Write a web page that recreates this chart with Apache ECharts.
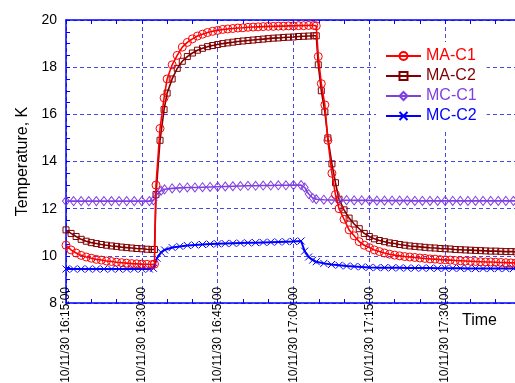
<!DOCTYPE html>
<html>
<head>
<meta charset="utf-8">
<script src="https://cdn.jsdelivr.net/npm/echarts@6/dist/echarts.min.js"></script>
<style>
html,body{margin:0;padding:0;background:#fff;}
#chart{width:515px;height:383px;}
</style>
</head>
<body>
<div id="chart"></div>
<script>
// minutes after 10/11/30 16:15:00
const timesMA = [0,1,2,3,4,5,6,7,8,9,10,11,12,13,14,15,16,17,17.5,17.8,18.6,19.4,
  20,21,22,23,24,25,26,27,28,29,30,31,32,33,34,35,36,37,38,39,40,41,42,43,44,45,46,47,48,49,
  49.5,49.9,50.5,51.2,51.8,52.6,53.3,
  54,55,56,57,58,59,60,61,62,63,64,65,66,67,68,69,70,71,72,73,74,75,76,77,78,79,80,81,82,83,84,85,86,87,88,89,90];
const maC1 = [10.45,10.25,10.12,10.02,9.95,9.9,9.85,9.82,9.78,9.76,9.73,9.71,9.69,9.67,9.66,9.65,9.64,9.63,
  9.65,13.0,15.4,16.7,
  17.5,18.1,18.5,18.85,19.05,19.2,19.32,19.4,19.47,19.52,19.56,19.6,19.62,19.64,19.66,19.67,19.69,19.7,19.71,19.72,19.73,19.73,19.74,19.74,19.75,19.75,19.76,19.76,19.77,19.77,
  19.75,18.45,17.3,16.4,14.9,13.5,12.6,
  12.0,11.55,11.1,10.85,10.6,10.45,10.35,10.25,10.18,10.12,10.07,10.03,10.0,9.97,9.95,9.93,9.91,9.89,9.87,9.86,9.84,9.83,9.82,9.8,9.79,9.78,9.77,9.76,9.75,9.74,9.74,9.73,9.72,9.71,9.7,9.7,9.69];
const maC2 = [11.1,10.95,10.82,10.7,10.62,10.56,10.52,10.48,10.45,10.42,10.4,10.37,10.35,10.33,10.31,10.3,10.28,10.27,
  10.27,12.6,14.9,16.2,
  16.9,17.5,17.95,18.25,18.45,18.6,18.72,18.8,18.87,18.92,18.96,19.0,19.03,19.06,19.09,19.11,19.13,19.15,19.17,19.19,19.21,19.23,19.24,19.26,19.27,19.28,19.3,19.31,19.32,19.33,
  19.33,18.1,17.0,16.1,15.0,13.9,13.1,
  12.4,11.95,11.6,11.35,11.15,10.95,10.82,10.72,10.65,10.6,10.55,10.52,10.48,10.45,10.42,10.4,10.38,10.36,10.34,10.33,10.31,10.3,10.29,10.27,10.26,10.25,10.24,10.23,10.22,10.21,10.2,10.2,10.19,10.18,10.18,10.17,10.17];

const timesMC = [0,1.5,3,4.5,6,7.5,9,10.5,12,13.5,15,16.5,17.3,18,18.8,19.5,
  21,22.5,24,25.5,27,28.5,30,31.5,33,34.5,36,37.5,39,40.5,42,43.5,45,46.5,
  47.2,48,48.8,49.5,
  51,52.5,54,55.5,57,58.5,60,61.5,63,64.5,66,67.5,69,70.5,72,73.5,75,76.5,78,79.5,81,82.5,84,85.5,87,88.5,90];
const mcC1 = [12.32,12.32,12.32,12.32,12.32,12.32,12.32,12.32,12.32,12.32,12.32,12.32,12.35,12.62,12.76,12.82,
  12.86,12.88,12.9,12.9,12.91,12.92,12.93,12.94,12.95,12.96,12.97,12.97,12.98,12.98,12.99,12.99,13.0,13.0,
  12.9,12.62,12.45,12.4,
  12.38,12.37,12.36,12.36,12.35,12.35,12.35,12.34,12.34,12.34,12.34,12.34,12.33,12.33,12.33,12.33,12.33,12.33,12.33,12.33,12.33,12.33,12.33,12.33,12.33,12.33,12.33];
const mcC2 = [9.44,9.44,9.44,9.44,9.44,9.44,9.44,9.44,9.44,9.44,9.44,9.44,9.47,9.9,10.15,10.25,
  10.35,10.4,10.44,10.46,10.48,10.5,10.51,10.52,10.53,10.54,10.55,10.56,10.57,10.58,10.59,10.6,10.61,10.63,
  10.2,9.95,9.82,9.75,
  9.68,9.63,9.6,9.57,9.55,9.53,9.51,9.5,9.5,9.49,9.49,9.48,9.48,9.48,9.48,9.47,9.47,9.47,9.47,9.46,9.46,9.46,9.46,9.46,9.46,9.46,9.46];

const seriesNames = ['MA-C1','MA-C2','MC-C1','MC-C2'];
const yTicks = [8,10,12,14,16,18,20];

const FONT = '"Liberation Sans", Arial, sans-serif';
const colors = ['#ff0000','#800000','#8040e0','#0000ff'];
const symbols = ['circle','rect','diamond','path://M0,0L10,10M10,0L0,10'];
const symSizes = [8,6,[7,9],7];
const lineWidths = [1.6,1.6,1.6,2];

function pairs(t, v){ return t.map((x,i)=>[x, v[i]]); }
const dataSets = [pairs(timesMA, maC1), pairs(timesMA, maC2), pairs(timesMC, mcC1), pairs(timesMC, mcC2)];

function timeLabel(v){
  if (v > 75 || Math.abs(v % 15) > 1e-6) return '';
  const total = 16*60 + 15 + v;
  const hh = Math.floor(total/60), mm = total % 60;
  return '10/11/30 ' + hh + ':' + String(mm).padStart(2,'0') + ':00';
}

const gridLine = {show:true, lineStyle:{color:'#4848e8', width:1, type:[4,3]}};
const axisBlue = {show:true, lineStyle:{color:'#0000ff', width:1.5}};

const chart = echarts.init(document.getElementById('chart'), null, {renderer:'canvas'});
chart.setOption({
  animation:false,
  backgroundColor:'#fff',
  textStyle:{fontFamily:FONT},
  grid:{left:66, top:20, width:455, height:283, containLabel:false, outerBoundsMode:'none'},
  xAxis:[{
    type:'value', min:0, max:90, interval:15, position:'bottom',
    axisLine:axisBlue,
    axisTick:{show:true, inside:true, length:4, lineStyle:{color:'#0000ff'}},
    minorTick:{show:true, splitNumber:3, length:4, lineStyle:{color:'#0000ff'}},
    splitLine:gridLine,
    axisLabel:{rotate:90, margin:-16, fontSize:12, color:'#000', fontFamily:FONT, formatter:timeLabel}
  },{
    type:'value', min:0, max:90, interval:15, position:'top',
    axisLine:axisBlue,
    axisTick:{show:true, inside:true, length:4, lineStyle:{color:'#0000ff'}},
    minorTick:{show:true, splitNumber:3, length:4, lineStyle:{color:'#0000ff'}},
    splitLine:{show:false},
    axisLabel:{show:false}
  }],
  yAxis:{
    type:'value', min:yTicks[0], max:yTicks[yTicks.length-1], interval:2,
    name:'Temperature, K', nameLocation:'middle', nameGap:35,
    nameTextStyle:{fontSize:16, color:'#000', fontFamily:FONT},
    axisLine:axisBlue,
    axisTick:{show:true, inside:true, length:4, lineStyle:{color:'#0000ff'}},
    minorTick:{show:true, splitNumber:4, length:4, lineStyle:{color:'#0000ff'}},
    splitLine:gridLine,
    axisLabel:{fontSize:14, color:'#000', margin:9, fontFamily:FONT}
  },
  legend:{
    orient:'vertical', left:376, top:42,
    padding:[6,10,6,9],
    backgroundColor:'#fff',
    itemWidth:35, itemHeight:10, itemGap:4, itemTextGap:3,
    data:seriesNames.map((n,i)=>({name:n, textStyle:{color:colors[i], fontSize:16, fontFamily:FONT}})),
    selectedMode:false
  },
  graphic:[{
    type:'text', left:462, top:313,
    style:{text:'Time', font:'16px ' + FONT, fill:'#000'}
  }],
  series:seriesNames.map((n,i)=>({
    name:n, type:'line', data:dataSets[i],
    symbol:symbols[i], symbolSize:symSizes[i], showSymbol:true, showAllSymbol:true,
    itemStyle:{color:'rgba(255,255,255,0)', borderColor:colors[i], borderWidth:1},
    lineStyle:{color:colors[i], width:lineWidths[i]},
    emphasis:{disabled:true},
    z: i===0 ? 5 : 3
  }))
});
</script>
</body>
</html>
